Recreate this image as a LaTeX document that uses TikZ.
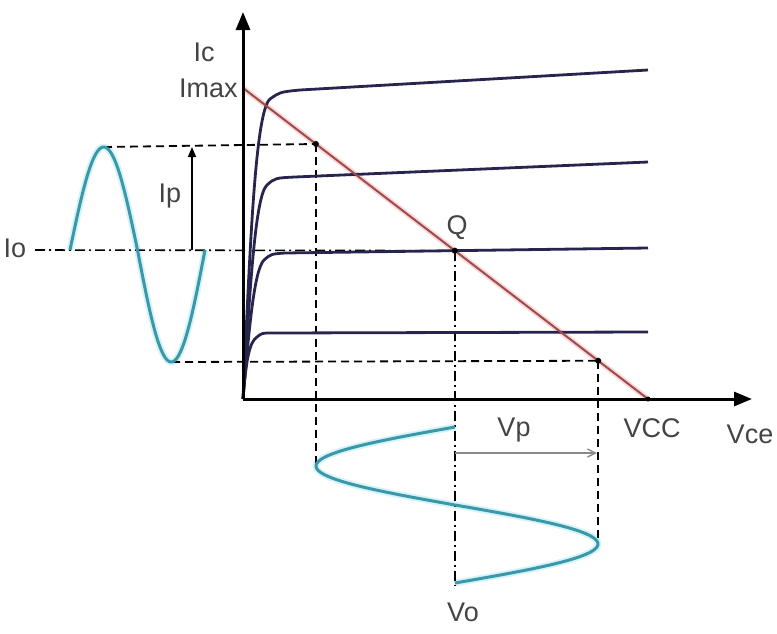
\documentclass[tikz,border=0pt]{standalone}
\usepackage{fontspec}
\setmainfont{Liberation Sans}
\usetikzlibrary{arrows.meta,calc}
\definecolor{curvecol}{HTML}{27244D}
\definecolor{loadcol}{HTML}{9E4B4B}
\definecolor{glowred}{HTML}{F8D8D8}
\definecolor{sinecol}{HTML}{3A98A8}
\definecolor{glowcyan}{HTML}{D6F3F8}
\definecolor{txt}{HTML}{444444}
\definecolor{graycol}{HTML}{8A8A8A}
\begin{document}
\begin{tikzpicture}[x=0.5pt,y=-0.5pt,
  lbl/.style={font=\fontsize{13.5}{15}\selectfont, text=txt, inner sep=0pt},
  axisline/.style={line width=1.5pt, -{Triangle[length=9pt,width=7pt]}},
  charc/.style={draw=curvecol, line width=1.4pt, line join=round},
  proj/.style={line width=0.9pt, dash pattern=on 4pt off 2.5pt},
  centre/.style={line width=0.8pt, dash pattern=on 5pt off 2pt on 1pt off 2pt},
  dotmark/.style={circle, fill=black, inner sep=0pt, minimum size=3pt},
  sinewave/.style={draw=sinecol, line width=1.5pt},
  sineglow/.style={draw=glowcyan, line width=3.4pt},
]
\useasboundingbox (0,0) rectangle (777,633);

% key coordinates
\coordinate (O) at (243,399);
\coordinate (ytop) at (243,12);
\coordinate (xend) at (752,399);
\coordinate (imax) at (243,88);
\coordinate (vcc) at (648,399);
\coordinate (P1) at ($(imax)!0.180!(vcc)$);
\coordinate (Q) at ($(imax)!0.523!(vcc)$);
\coordinate (P2) at ($(imax)!0.877!(vcc)$);
\coordinate (speak) at (104,147);
\coordinate (strough) at (172,362);
\coordinate (iostart) at (35,250);
\coordinate (lpeak) at (316,466);
\coordinate (rpeak) at (598,544);
\coordinate (voend) at (455,585);
\coordinate (ipbase) at (192,250);
\coordinate (iptop) at (192,147);
\coordinate (vpstart) at (455,453);
\coordinate (vpend) at (597,453);

% glows
\draw[sineglow] plot[domain=0:180,samples=50] ({70+\x*0.375},{250-103*sin(\x)});
\draw[sineglow] plot[domain=180:360,samples=50] ({70+\x*0.375},{250-112*sin(\x)});
\draw[sineglow] plot[domain=0:180,samples=50] ({455-139*sin(\x)},{427+\x*0.4333});
\draw[sineglow] plot[domain=180:360,samples=50] ({455-143*sin(\x)},{427+\x*0.4333});
\draw[glowred, line width=2.8pt] (imax) -- (vcc);

% projection lines
\draw[proj] (speak) -- (P1);
\draw[proj] (P1) -- (P1 |- lpeak);
\draw[proj] (strough) -- (P2);
\draw[proj] (P2) -- (P2 |- rpeak);
\draw[centre] (iostart) -- (Q);
\draw[centre] (Q) -- (Q |- voend);

% characteristic curves
\draw[charc] (O) .. controls (250,250) and (255,112) .. (270,99) .. controls (280,92) .. (300,90) -- (648,70);
\draw[charc] (O) .. controls (250,290) and (255,196) .. (267,185) .. controls (275,178) .. (295,177) -- (648,162);
\draw[charc] (O) .. controls (249,330) and (254,270) .. (264,260) .. controls (271,254) .. (285,253) -- (648,248);
\draw[charc] (O) .. controls (246,362) and (249,342) .. (257,337) .. controls (262,333) .. (272,333) -- (648,332);

% load line
\draw[loadcol, line width=1pt] (imax) -- (vcc);

% sine waves
\draw[sinewave] plot[domain=0:180,samples=50] ({70+\x*0.375},{250-103*sin(\x)});
\draw[sinewave] plot[domain=180:360,samples=50] ({70+\x*0.375},{250-112*sin(\x)});
\draw[sinewave] plot[domain=0:180,samples=50] ({455-139*sin(\x)},{427+\x*0.4333});
\draw[sinewave] plot[domain=180:360,samples=50] ({455-143*sin(\x)},{427+\x*0.4333});

% axes
\draw[axisline] (O) -- (ytop);
\draw[axisline] (O) -- (xend);

% arrows Ip, Vp
\draw[line width=0.8pt, -{Triangle[length=5pt,width=4pt]}] (ipbase) -- (iptop);
\draw[graycol, line width=0.7pt, -{Straight Barb[length=4pt,width=4pt]}] (vpstart) -- (vpend);

% dots
\node[dotmark] (p1dot) at (P1) {};
\node[dotmark] (qdot) at (Q) {};
\node[dotmark] (p2dot) at (P2) {};
\node[dotmark, minimum size=2.5pt] (vccdot) at (vcc) {};

% labels
\node[lbl] (lIc) at (204,52) {Ic};
\node[lbl, anchor=east] (lImax) at (238,88) {Imax};
\node[lbl] (lIo) at (15,248) {Io};
\node[lbl] (lIp) at (170,196) {Ip};
\node[lbl] (lQ) at (457,228) {Q};
\node[lbl] (lVCC) at (652,428) {VCC};
\node[lbl] (lVce) at (750,434) {Vce};
\node[lbl] (lVp) at (514,430) {Vp};
\node[lbl] (lVo) at (463,612) {Vo};
\end{tikzpicture}
\end{document}
